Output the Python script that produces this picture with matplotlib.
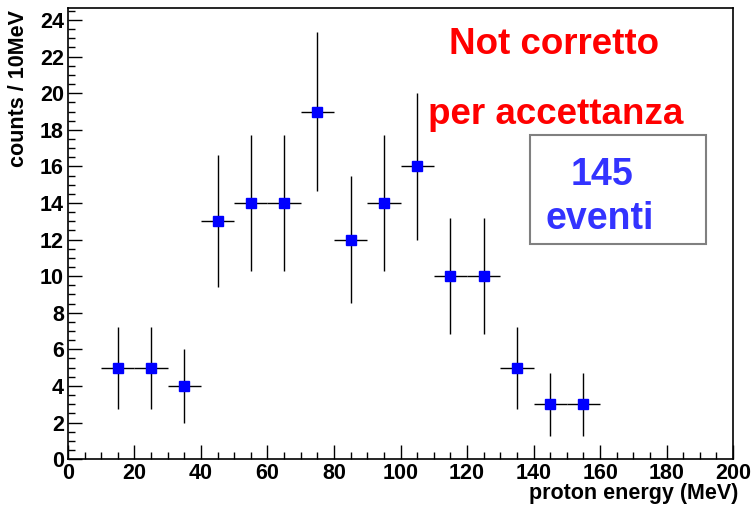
import numpy as np
import matplotlib.pyplot as plt
from matplotlib.ticker import MultipleLocator

# proton energy histogram (10 MeV bins)
bin_centers = [15, 25, 35, 45, 55, 65, 75, 85, 95, 105, 115, 125, 135, 145, 155]
counts = [5, 5, 4, 13, 14, 14, 19, 12, 14, 16, 10, 10, 5, 3, 3]
count_err = [2.24, 2.24, 2.0, 3.61, 3.74, 3.74, 4.36, 3.46, 3.74, 4.0,
             3.16, 3.16, 2.24, 1.73, 1.73]
bin_half = 5

plt.rcParams['font.family'] = ['Liberation Sans', 'DejaVu Sans']

fig = plt.figure(figsize=(7.55, 5.09), dpi=100)
ax = fig.add_axes([0.090, 0.098, 0.881, 0.886])

ax.errorbar(bin_centers, counts, yerr=count_err, xerr=bin_half,
            fmt='s', color='#0000ff', markersize=7.5, ecolor='black',
            elinewidth=1, capsize=0, zorder=3)

ax.set_xlim(0, 200)
ax.set_ylim(0, 24.65)
ax.xaxis.set_major_locator(MultipleLocator(20))
ax.xaxis.set_minor_locator(MultipleLocator(5))
ax.yaxis.set_major_locator(MultipleLocator(2))
ax.yaxis.set_minor_locator(MultipleLocator(0.5))
ax.tick_params(which='both', direction='in', top=False, right=False,
               labelsize=15.5, width=1)
ax.tick_params(which='major', length=10, pad=3)
ax.tick_params(which='minor', length=5)
for lbl in ax.get_xticklabels() + ax.get_yticklabels():
    lbl.set_fontweight('bold')
for sp in ax.spines.values():
    sp.set_linewidth(1.2)

ax.set_xlabel('proton energy (MeV)', fontsize=15.5, fontweight='bold')
ax.xaxis.set_label_coords(1.008, -0.052)
ax.xaxis.label.set_ha('right')
ax.set_ylabel('counts / 10MeV', fontsize=15.5, fontweight='bold')
ax.yaxis.set_label_coords(-0.058, 0.995)
ax.yaxis.label.set_ha('right')

ax.text(0.731, 0.92, 'Not corretto', transform=ax.transAxes, color='red',
        fontsize=26.5, fontweight='bold', ha='center', va='center')
ax.text(0.734, 0.765, 'per accettanza', transform=ax.transAxes, color='red',
        fontsize=26.5, fontweight='bold', ha='center', va='center')

box = plt.Rectangle((0.695, 0.477), 0.265, 0.242, transform=ax.transAxes,
                    facecolor='white', edgecolor='#808080', linewidth=1.5,
                    zorder=4)
ax.add_patch(box)
ax.text(0.803, 0.630, '145', transform=ax.transAxes, color='#3333ff',
        fontsize=27, fontweight='bold', ha='center', va='center', zorder=5)
ax.text(0.800, 0.533, 'eventi', transform=ax.transAxes, color='#3333ff',
        fontsize=27, fontweight='bold', ha='center', va='center', zorder=5)

fig.savefig('out.png', dpi=100)
